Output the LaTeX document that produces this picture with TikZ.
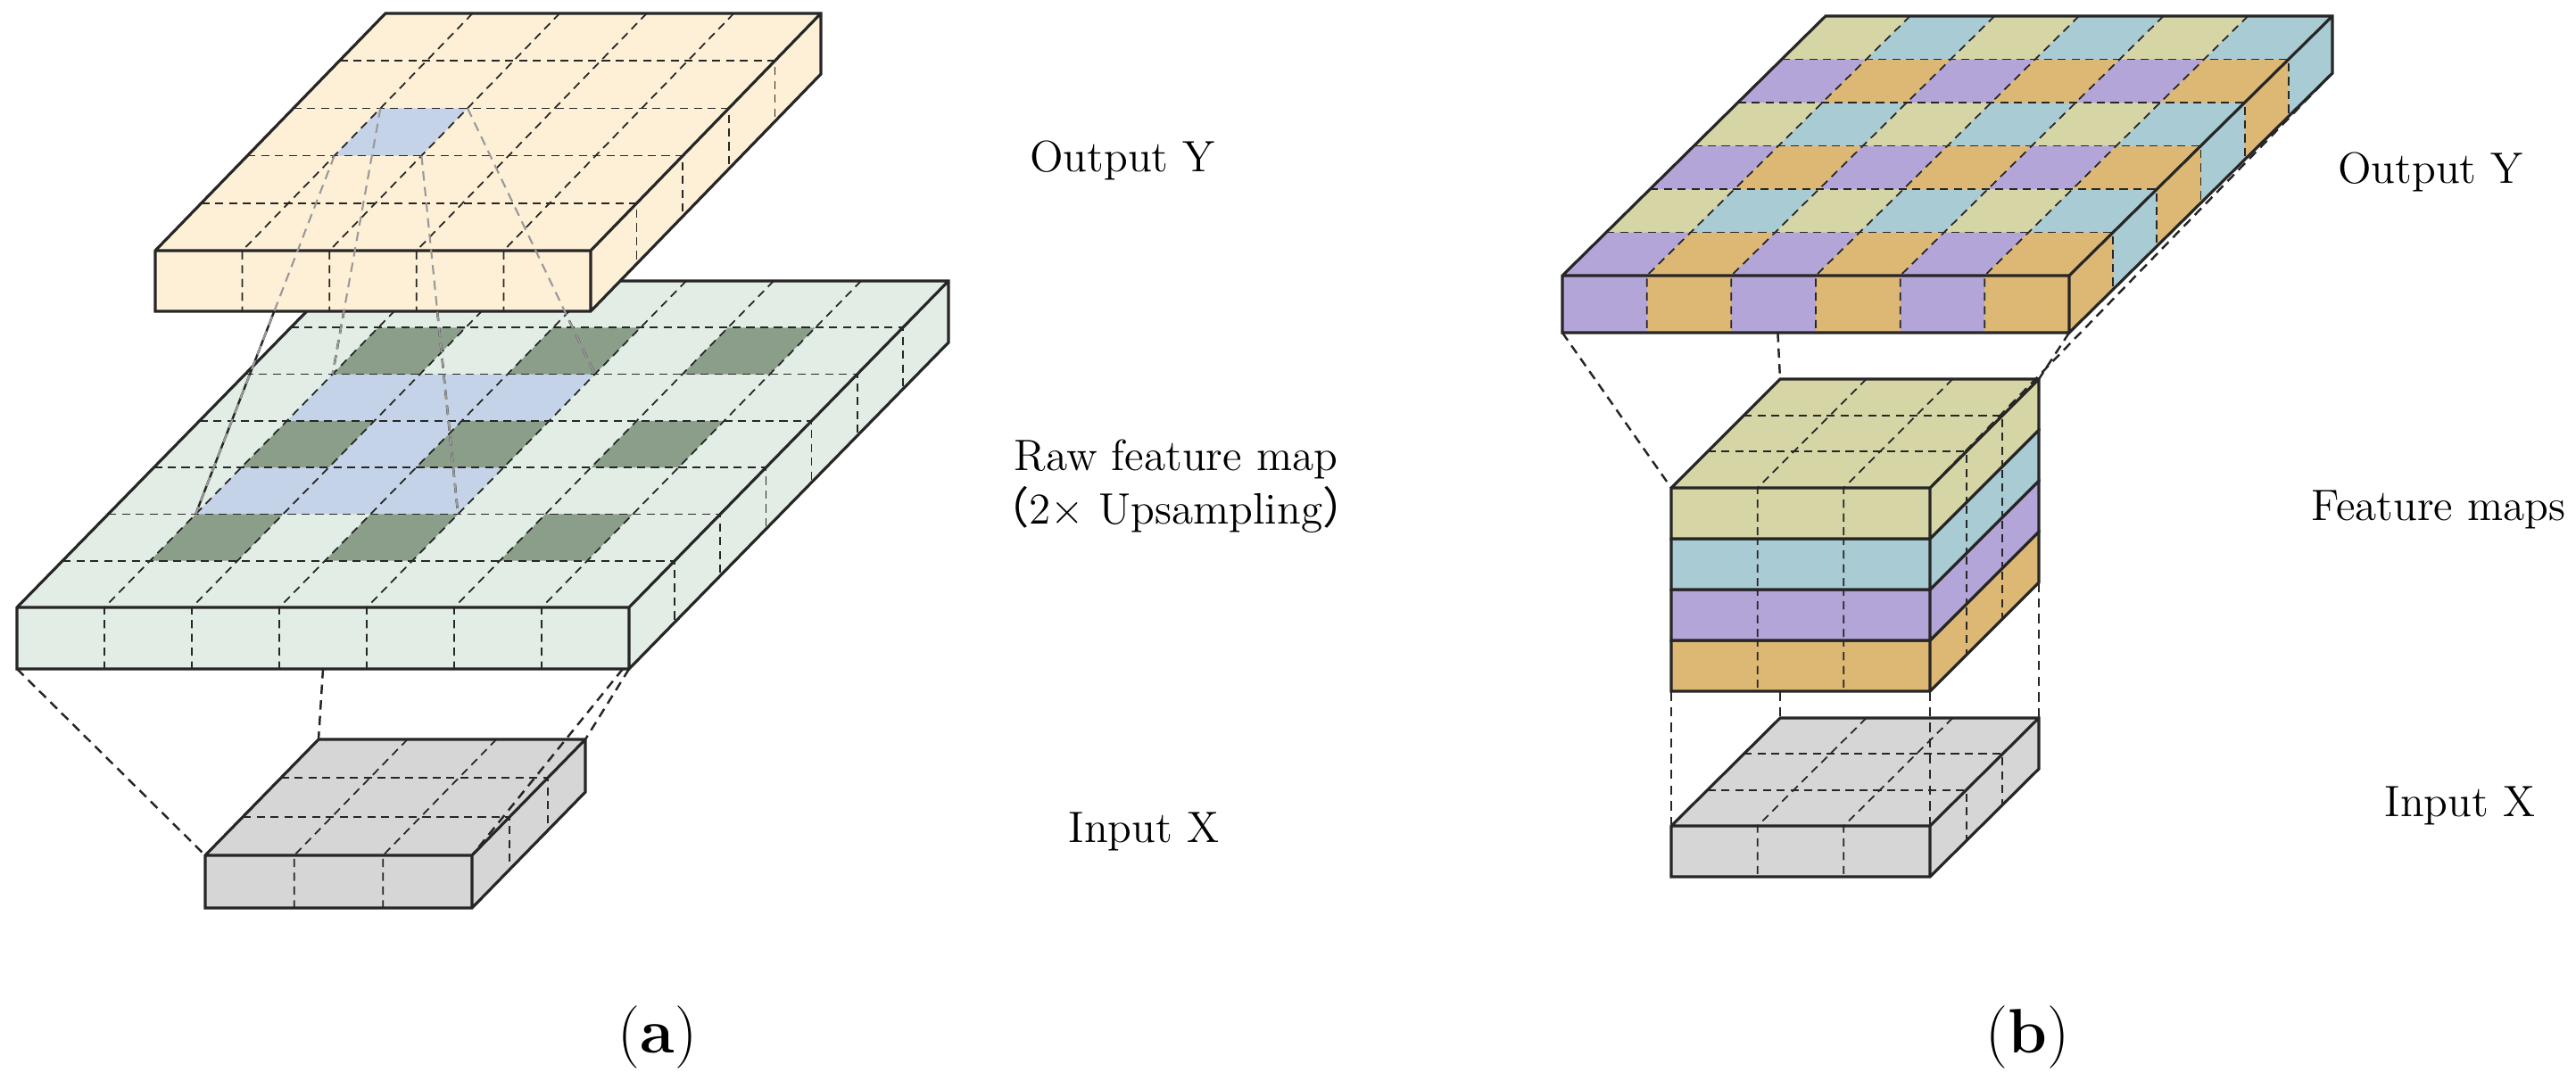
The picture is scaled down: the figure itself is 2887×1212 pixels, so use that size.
\documentclass[tikz,border=0pt]{standalone}
\usepackage{fontspec}
\newfontfamily\cjk{Noto Sans CJK SC}
\definecolor{yel}{HTML}{FDF0D6}
\definecolor{grn}{HTML}{E2EEE5}
\definecolor{dgrn}{HTML}{8A9E8A}
\definecolor{lblue}{HTML}{C5D3E8}
\definecolor{gry}{HTML}{D6D6D6}
\definecolor{cyg}{HTML}{D6D5A6}
\definecolor{cbl}{HTML}{A8CBD4}
\definecolor{cpu}{HTML}{B4A5D9}
\definecolor{cor}{HTML}{DDB874}
\newcommand\setcub[8]{\def\BX{#1}\def\BY{#2}\def\BW{#3}\def\BDX{#4}\def\BDY{#5}\def\BN{#6}\def\BM{#7}\def\BT{#8}}
\newcommand\PP[2]{({\BX+\BDX-(#1)*\BDX/\BM+(#2)*\BW/\BN},{\BY+\BDY-(#1)*\BDY/\BM})}
\newcommand\SP[2]{({\BX+\BW+\BDX-(#1)*\BDX/\BM},{\BY+\BDY-(#1)*\BDY/\BM+#2})}
\newcommand\FP[2]{({\BX+(#1)*\BW/\BN},{\BY+#2})}
\newcommand\cellfill[3]{\fill[#3] \PP{#1}{#2} -- \PP{#1}{#2+1} -- \PP{#1+1}{#2+1} -- \PP{#1+1}{#2} -- cycle;}
\newcommand\frontcell[2]{\fill[#2] \FP{#1}{0} -- \FP{#1+1}{0} -- \FP{#1+1}{\BT} -- \FP{#1}{\BT} -- cycle;}
\newcommand\sidecell[2]{\fill[#2] \SP{#1}{0} -- \SP{#1+1}{0} -- \SP{#1+1}{\BT} -- \SP{#1}{\BT} -- cycle;}
\newcommand\cubfill[3]{%
  \fill[#1] \PP{\BM}{0} -- \PP{\BM}{\BN} -- \PP{0}{\BN} -- \PP{0}{0} -- cycle;
  \fill[#2] \FP{0}{0} -- \FP{\BN}{0} -- \FP{\BN}{\BT} -- \FP{0}{\BT} -- cycle;
  \fill[#3] \SP{\BM}{0} -- \SP{0}{0} -- \SP{0}{\BT} -- \SP{\BM}{\BT} -- cycle;}
\newcommand\cubgrid{%
  \foreach \i in {1,...,\numexpr\BN-1\relax}{
    \draw[grid] \PP{0}{\i} -- \PP{\BM}{\i} -- \FP{\i}{\BT};}
  \foreach \j in {1,...,\numexpr\BM-1\relax}{
    \draw[grid] \PP{\j}{0} -- \PP{\j}{\BN} -- \SP{\j}{\BT};}
  \draw[edge] \FP{0}{\BT} -- \FP{0}{0} -- \PP{0}{0} -- \PP{0}{\BN} -- \SP{0}{\BT} -- \FP{\BN}{\BT} -- cycle
    \FP{0}{0} -- \FP{\BN}{0} -- \SP{0}{0} \FP{\BN}{0} -- \FP{\BN}{\BT};}
\newcommand\cname[2]{\path #2 coordinate (#1);}
\tikzset{
  grid/.style={line width=0.5pt,dash pattern=on 2.6pt off 1.8pt,black!85},
  edge/.style={line width=0.9pt,line join=miter,black!85},
  link/.style={line width=0.7pt,dash pattern=on 3pt off 2pt,black!85},
  ghost/.style={line width=0.6pt,dash pattern=on 3pt off 2pt,black!40},
  lab/.style={font=\fontsize{14}{17}\selectfont,align=center},
  capt/.style={font=\fontsize{20}{24}\selectfont}
}
\begin{document}
\begin{tikzpicture}[x=0.01cm,y=-0.01cm]
\useasboundingbox (0,0) rectangle (2887,1212);
% ===== (a) =====
\setcub{230}{959}{299}{127}{-130}{3}{3}{59}
\cubfill{gry}{gry}{gry}\cubgrid
\cname{ia-fl}{\FP{0}{0}}
\cname{ia-fr}{\FP{3}{0}}
\cname{ia-bl}{\PP{0}{0}}
\cname{ia-br}{\PP{0}{3}}
\setcub{19}{681}{686}{358}{-366}{7}{7}{69}
\cubfill{grn}{grn}{grn}
\foreach \r/\c in {2/1,2/2,2/3,3/2,4/1,4/2,4/3} {\cellfill{\r}{\c}{lblue}}
\foreach \r in {1,3,5}{\foreach \c in {1,3,5}{\cellfill{\r}{\c}{dgrn}}}
\cubgrid
\cname{g1}{\PP{5}{1}}
\cname{g2}{\PP{5}{4}}
\cname{g3}{\PP{2}{1}}
\cname{g4}{\PP{2}{4}}
\cname{ga-bl}{\FP{0}{\BT}}
\cname{ga-bm}{\FP{3.5}{\BT}}
\cname{ga-br}{\FP{7}{\BT}}
\draw[link] (ga-bl) -- (ia-fl);
\draw[link] (ga-bm) -- (ia-bl);
\draw[link] (ga-br) -- (ia-br);
\draw[link] ([xshift=-2]ga-br) -- (ia-fr);
\setcub{174}{281}{488}{258}{-266}{5}{5}{68}
\cname{y1}{\PP{3}{1}}
\cname{y2}{\PP{3}{2}}
\cname{y3}{\PP{2}{1}}
\cname{y4}{\PP{2}{2}}
\draw[line width=0.7pt,black!85] (y1) -- (g1);
\draw[link] (y2) -- (g2);
\draw[link] (y3) -- (g3);
\draw[link] (y4) -- (g4);
\cubfill{yel}{yel}{yel}
\cellfill{2}{1}{lblue}
\cubgrid
\draw[ghost] (y1) -- (g1) (y2) -- (g2) (y3) -- (g3) (y4) -- (g4);
\node[lab] (la1) at (1258,180) {Output Y};
\node[lab] (la2) at (1318,545) {Raw feature map\\{\cjk （}2× Upsampling{\cjk ）}};
\node[lab] (la3) at (1282,932) {Input X};
\node[capt] (capa) at (737,1163) {(\textbf{a})};
% ===== (b) =====
\setcub{1873}{926}{290}{122}{-121}{3}{3}{57}
\cubfill{gry}{gry}{gry}\cubgrid
\cname{ib-fl}{\FP{0}{0}}
\cname{ib-fr}{\FP{3}{0}}
\cname{ib-bl}{\PP{0}{0}}
\cname{ib-br}{\PP{0}{3}}
\setcub{1873}{718}{290}{122}{-122}{3}{3}{57}
\cubfill{cor}{cor}{cor}\cubgrid
\cname{f-bl}{\FP{0}{\BT}}
\cname{f-bm}{({\BX+\BDX},{\BY+\BT})}
\cname{f-bfr}{\FP{3}{\BT}}
\cname{f-bbr}{\SP{0}{\BT}}
\setcub{1873}{661}{290}{122}{-122}{3}{3}{57}
\cubfill{cpu}{cpu}{cpu}\cubgrid
\setcub{1873}{604}{290}{122}{-122}{3}{3}{57}
\cubfill{cbl}{cbl}{cbl}\cubgrid
\setcub{1873}{547}{290}{122}{-122}{3}{3}{57}
\cubfill{cyg}{cyg}{cyg}\cubgrid
\cname{f-fl}{\FP{0}{0}}
\cname{f-fr}{\FP{3}{0}}
\cname{f-bk}{\PP{0}{0}}
\cname{f-br}{\PP{0}{3}}
\draw[link] (f-bl) -- (ib-fl);
\draw[link] (f-bm) -- (ib-bl);
\draw[link] (f-bfr) -- (ib-fr);
\draw[link] (f-bbr) -- (ib-br);
\setcub{1751}{309}{568}{295}{-291}{6}{6}{64}
\cubfill{cyg}{cpu}{cbl}
\foreach \r in {0,2,4}{\foreach \c in {1,3,5}{\cellfill{\r}{\c}{cbl}}}
\foreach \r in {1,3,5}{\foreach \c in {0,2,4}{\cellfill{\r}{\c}{cpu}}\foreach \c in {1,3,5}{\cellfill{\r}{\c}{cor}}}
\foreach \c in {1,3,5}{\frontcell{\c}{cor}}
\foreach \r in {1,3,5}{\sidecell{\r}{cor}}
\cubgrid
\cname{o-fl}{\FP{0}{\BT}}
\cname{o-fm}{\FP{2.55}{\BT}}
\cname{o-fr}{\FP{6}{\BT}}
\cname{o-br}{\SP{0}{\BT}}
\draw[link] (o-fl) -- (f-fl);
\draw[link] (o-fm) -- (f-bk);
\draw[link] (o-fr) -- (f-br);
\draw[link] (o-br) -- (f-fr);
\node[lab] (lb1) at (2724,193) {Output Y};
\node[lab] (lb2) at (2733,572) {Feature maps};
\node[lab] (lb3) at (2757,903) {Input X};
\node[capt] (capb) at (2272,1163) {(\textbf{b})};
\end{tikzpicture}
\end{document}
